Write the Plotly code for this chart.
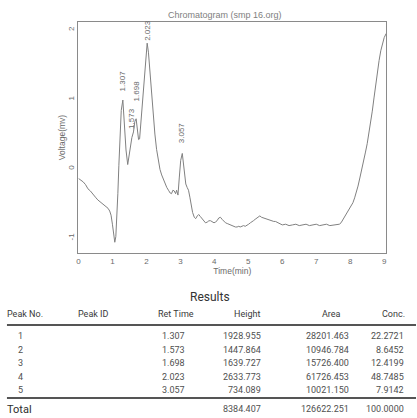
import plotly.graph_objects as go

# ---- chromatogram trace (time in min, detector voltage in mV) ----
time_min = [
    0.00, 0.07, 0.14, 0.21, 0.28, 0.35, 0.43, 0.50, 0.57, 0.64, 0.72, 0.80,
    0.87, 0.92, 0.96, 1.00, 1.04, 1.07, 1.10, 1.13, 1.16, 1.19, 1.22, 1.26,
    1.35, 1.40, 1.45, 1.50, 1.54, 1.62, 1.66, 1.73, 1.77, 1.80, 1.85, 1.89,
    1.95, 1.99, 2.06, 2.10, 2.15, 2.20, 2.25, 2.30, 2.35, 2.40, 2.45, 2.50,
    2.55, 2.60, 2.65, 2.70, 2.74, 2.78, 2.82, 2.86, 2.89, 2.93, 2.97, 3.01,
    3.09, 3.12, 3.16, 3.20, 3.24, 3.28, 3.32, 3.36, 3.41, 3.45, 3.50, 3.54,
    3.59, 3.64, 3.69, 3.74, 3.79, 3.84, 3.89, 3.94, 3.99, 4.03, 4.08, 4.13,
    4.18, 4.23, 4.28, 4.33, 4.38, 4.42, 4.47, 4.52, 4.57, 4.62, 4.67, 4.72,
    4.76, 4.81, 4.86, 4.91, 4.96, 5.01, 5.06, 5.10, 5.15, 5.20, 5.25, 5.30,
    5.34, 5.39, 5.45, 5.50, 5.55, 5.60, 5.65, 5.70, 5.75, 5.80, 5.85, 5.90,
    5.95, 6.00, 6.10, 6.20, 6.30, 6.40, 6.50, 6.60, 6.70, 6.80, 6.90, 7.00,
    7.10, 7.20, 7.30, 7.40, 7.50, 7.60, 7.68, 7.73, 7.78, 7.83, 7.88, 7.93,
    7.98, 8.03, 8.08, 8.13, 8.18, 8.23, 8.29, 8.35, 8.40, 8.45, 8.50, 8.55,
    8.60, 8.65, 8.70, 8.75, 8.80, 8.85, 8.90, 8.95, 9.00, 9.06,
]
voltage_mv = [
    -0.14, -0.16, -0.19, -0.23, -0.29, -0.32, -0.36, -0.41, -0.45, -0.48, -0.51, -0.54,
    -0.57, -0.61, -0.67, -0.80, -0.98, -1.06, -0.98, -0.72, -0.36, 0.05, 0.45, 0.84,
    0.62, 0.27, 0.06, 0.22, 0.40, 0.53, 0.68, 0.58, 0.42, 0.43, 0.75, 1.08,
    1.45, 1.70, 1.68, 1.40, 1.10, 0.80, 0.50, 0.28, 0.10, -0.01, -0.09, -0.15,
    -0.22, -0.27, -0.31, -0.35, -0.36, -0.31, -0.32, -0.36, -0.31, -0.38, -0.12, 0.12,
    0.05, -0.12, -0.22, -0.27, -0.31, -0.41, -0.54, -0.63, -0.70, -0.72, -0.68, -0.66,
    -0.69, -0.72, -0.76, -0.78, -0.77, -0.75, -0.75, -0.76, -0.78, -0.77, -0.75, -0.71,
    -0.70, -0.73, -0.76, -0.78, -0.79, -0.80, -0.81, -0.82, -0.83, -0.84, -0.84, -0.83,
    -0.84, -0.83, -0.82, -0.83, -0.82, -0.80, -0.78, -0.77, -0.75, -0.73, -0.71, -0.69,
    -0.68, -0.70, -0.71, -0.72, -0.73, -0.73, -0.74, -0.75, -0.76, -0.76, -0.77, -0.79,
    -0.80, -0.81, -0.80, -0.82, -0.81, -0.80, -0.82, -0.81, -0.80, -0.82, -0.81, -0.80,
    -0.82, -0.81, -0.80, -0.82, -0.81, -0.81, -0.80, -0.78, -0.74, -0.70, -0.66, -0.62,
    -0.58, -0.54, -0.49, -0.42, -0.34, -0.25, -0.12, 0.00, 0.12, 0.24, 0.36, 0.50,
    0.65, 0.83, 1.02, 1.22, 1.40, 1.56, 1.70, 1.81, 1.89, 1.95,
]

# ---- peak table ----
peak_no = [1, 2, 3, 4, 5]
ret_time = [1.307, 1.573, 1.698, 2.023, 3.057]
peak_volt = [0.99, 0.45, 0.72, 1.81, 0.22]      # apex voltage of each peak
height = [1928.955, 1447.864, 1639.727, 2633.773, 734.089]
area = [28201.463, 10946.784, 15726.400, 61726.453, 10021.150]
conc = [22.2721, 8.6452, 12.4199, 48.7485, 7.9142]
total_height = 8384.407
total_area = 126622.251
total_conc = 100.0

x_ticks = [0, 1, 2, 3, 4, 5, 6, 7, 8, 9]
y_ticks = [-1, 0, 1, 2]

W, H = 417, 418
AX_COL = "#8a8a8a"
TXT_COL = "#6a6a6a"
TAB_COL = "#505050"
TAB_FONT = "Roboto, sans-serif"
CH_FONT = "Liberation Sans, Arial, sans-serif"


def px(x):
    return x / W


def py(y):
    return 1 - y / H


# merge apex points into the trace
pts = sorted(list(zip(time_min, voltage_mv)) + list(zip(ret_time, peak_volt)))
tx = [p[0] for p in pts]
vy = [p[1] for p in pts]

fig = go.Figure()
fig.add_trace(go.Scatter(
    x=tx, y=vy, mode="lines",
    line=dict(color="#808080", width=1),
    hoverinfo="skip", showlegend=False,
))

# rotated retention-time labels above each peak
label_gap = [7, 7, 15, 0, 8]
annotations = []
for rt, v, g in zip(ret_time, peak_volt, label_gap):
    annotations.append(dict(
        x=rt, y=v, xref="x", yref="y", text=f"{rt:.3f}", showarrow=False,
        textangle=-90, xanchor="center", yanchor="bottom", yshift=g,
        font=dict(family=CH_FONT, size=8, color=TXT_COL),
    ))

# chart title
annotations.append(dict(
    x=px(225), y=py(15), xref="paper", yref="paper", showarrow=False,
    text="Chromatogram (smp 16.org)", xanchor="center", yanchor="middle",
    font=dict(family=CH_FONT, size=9, color="#808080"),
))

# results table
annotations.append(dict(
    x=px(210), y=py(297), xref="paper", yref="paper", showarrow=False,
    text="Results", xanchor="center", yanchor="middle",
    font=dict(family=TAB_FONT, size=12, color="#333333"),
))

headers = ["Peak No.", "Peak ID", "Ret Time", "Height", "Area", "Conc."]
header_x = [23, 92, 175, 247, 332, 394]
for h, hx in zip(headers, header_x):
    annotations.append(dict(
        x=px(hx), y=py(314), xref="paper", yref="paper", showarrow=False,
        text=h, xanchor="center", yanchor="middle",
        font=dict(family=TAB_FONT, size=9, color="#3a3a3a"),
    ))

row_y = [336, 349.5, 363, 376.5, 390]
col_right = [None, None, 186, 263, 352, 407]
for i, ry in enumerate(row_y):
    cells = [
        (px(19), "center", str(peak_no[i])),
        (px(col_right[2]), "right", f"{ret_time[i]:.3f}"),
        (px(col_right[3]), "right", f"{height[i]:.3f}"),
        (px(col_right[4]), "right", f"{area[i]:.3f}"),
        (px(col_right[5]), "right", f"{conc[i]:.4f}"),
    ]
    for cx, anc, t in cells:
        annotations.append(dict(
            x=cx, y=py(ry), xref="paper", yref="paper", showarrow=False,
            text=t, xanchor=anc, yanchor="middle",
            font=dict(family=TAB_FONT, size=9, color=TAB_COL),
        ))

annotations.append(dict(
    x=px(3), y=py(409), xref="paper", yref="paper", showarrow=False,
    text="Total", xanchor="left", yanchor="middle",
    font=dict(family=TAB_FONT, size=11, color="#2e2e2e"),
))
for cx, t in [(col_right[3], f"{total_height:.3f}"),
              (col_right[4], f"{total_area:.3f}"),
              (col_right[5], f"{total_conc:.4f}")]:
    annotations.append(dict(
        x=px(cx), y=py(409), xref="paper", yref="paper", showarrow=False,
        text=t, xanchor="right", yanchor="middle",
        font=dict(family=TAB_FONT, size=9, color=TAB_COL),
    ))

shapes = []
for ly in (325, 398):
    shapes.append(dict(
        type="line", xref="paper", yref="paper",
        x0=px(5), x1=px(417), y0=py(ly), y1=py(ly),
        line=dict(color="#555555", width=2),
    ))

fig.update_layout(
    width=W, height=H,
    margin=dict(l=0, r=0, t=0, b=0),
    paper_bgcolor="white", plot_bgcolor="white",
    showlegend=False,
    annotations=annotations,
    shapes=shapes,
    xaxis=dict(
        domain=[px(77), px(387)], range=[0, 9.06],
        tickmode="array", tickvals=x_ticks, ticktext=[str(t) for t in x_ticks],
        ticks="", showgrid=False, zeroline=False,
        showline=True, linecolor=AX_COL, linewidth=1, mirror=True,
        tickfont=dict(family=CH_FONT, size=8, color=TXT_COL),
        title=dict(text="Time(min)", standoff=2,
                   font=dict(family=CH_FONT, size=8.5, color=TXT_COL)),
    ),
    yaxis=dict(
        domain=[py(253), py(22)], range=[-1.215, 2.115],
        tickmode="array", tickvals=y_ticks, ticktext=[str(t) for t in y_ticks],
        ticks="", tickangle=-90, showgrid=False, zeroline=False,
        showline=True, linecolor=AX_COL, linewidth=1, mirror=True,
        tickfont=dict(family=CH_FONT, size=8, color=TXT_COL),
        title=dict(text="Voltage(mv)", standoff=0,
                   font=dict(family=CH_FONT, size=8.5, color=TXT_COL)),
    ),
)

fig.write_html("out.html")
